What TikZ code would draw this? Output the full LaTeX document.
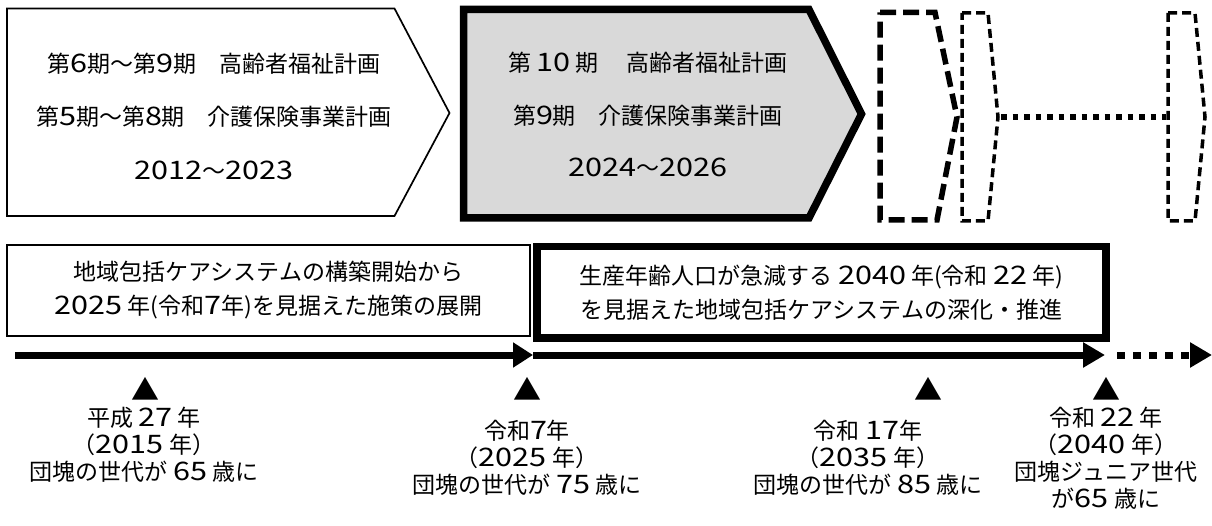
\documentclass[tikz,border=0pt]{standalone}
\usepackage{fontspec}
\newfontfamily\jp{Noto Sans CJK JP}
\newfontfamily\jpdigit[FakeStretch=1.2]{Noto Sans CJK JP}
\newcommand\dg[1]{{\jpdigit\fontsize{25.5}{26}\selectfont #1}}
\usetikzlibrary{arrows.meta}
\definecolor{planfill}{HTML}{D9D9D9}
\tikzset{
  jptext/.style={font=\jp\fontsize{23}{27}\selectfont, inner sep=0pt, align=center},
  toptext/.style={jptext, font=\jp\fontsize{23}{53.5}\selectfont},
  toptextB/.style={jptext, font=\jp\fontsize{23}{52.5}\selectfont},
  boxtext/.style={jptext, font=\jp\fontsize{23}{34}\selectfont},
  planA/.style={draw, line width=1.7pt, fill=white, line join=miter},
  planB/.style={draw, line width=7.5pt, fill=planfill, line join=miter},
  futureA/.style={draw, line width=5.5pt, dash pattern=on 16pt off 7pt},
  futureB/.style={draw, line width=3.5pt, dash pattern=on 9pt off 5pt},
  dotline/.style={line width=5.5pt, dash pattern=on 5.5pt off 6pt},
  stageA/.style={boxtext, draw, line width=1.7pt, minimum width=523pt, minimum height=91pt},
  stageB/.style={boxtext, draw, line width=7.5pt, minimum width=569pt, minimum height=91.5pt},
  timeline/.style={line width=7pt},
  marker/.style={jptext, font=\jp\fontsize{28}{28}\selectfont},
  yearlabel/.style={jptext}
}
\begin{document}
\begin{tikzpicture}[x=1pt,y=-1pt]
\useasboundingbox (0,0) rectangle (1212,526);

% plan pentagons
\draw[planA] (7,8.5) -- (394.5,8.5) -- (449.5,113) -- (394.5,216) -- (7,216) -- cycle;
\node[toptext] (p1) at (214,116) {第\dg{6}期～第\dg{9}期　高齢者福祉計画\\第\dg{5}期～第\dg{8}期　介護保険事業計画\\\dg{2012}～\dg{2023}};

\draw[planB] (463.5,9.5) -- (809,9.5) -- (861.5,114) -- (809,218) -- (463.5,218) -- cycle;
\node[toptextB] (p2) at (648,114.5) {第 \dg{10} 期\hspace{1.2em}高齢者福祉計画\\第\dg{9}期　介護保険事業計画\\\dg{2024}～\dg{2026}};

\draw[futureA] (880,12.5) -- (935,12.5) -- (957,117) -- (937,220) -- (880,220) -- cycle;
\draw[futureB] (962,13) -- (988,13) -- (998,117) -- (988,221) -- (962,221) -- cycle;
\draw[futureB] (1168,13) -- (1195,13) -- (1205,117) -- (1195,221) -- (1168,221) -- cycle;
\coordinate (f2tip) at (1001,117);
\coordinate (f3left) at (1166,117);
\draw[dotline] (f2tip) -- (f3left);

% stage boxes
\node[stageA] (s1) at (268.5,290.5) {地域包括ケアシステムの構築開始から\\\dg{2025} 年(令和\dg{7}年)を見据えた施策の展開};
\node[stageB] (s2) at (821.5,292.25) {生産年齢人口が急減する \dg{2040} 年(令和 \dg{22} 年)\\を見据えた地域包括ケアシステムの深化・推進};

% timeline
\coordinate (t0) at (15,355);
\coordinate (t1) at (533,355);
\coordinate (t2) at (1105,355);
\coordinate (t3) at (1117,355);
\coordinate (t4) at (1212,355);
\draw[timeline, -{Triangle[length=20pt,width=24pt]}] (t0) -- (t1);
\draw[timeline, -{Triangle[length=22pt,width=24pt]}] (t1) -- (t2);
\draw[timeline, dash pattern=on 8pt off 8pt, -{Triangle[length=22pt,width=24pt]}] (t3) -- (t4);

% markers and labels
\node[marker] (m1) at (145,389) {▲};
\node[marker] (m2) at (527,389) {▲};
\node[marker] (m3) at (928,389) {▲};
\node[marker] (m4) at (1106,389) {▲};

\node[yearlabel] (y1) at (144,445) {平成 \dg{27} 年\\（\dg{2015} 年）\\団塊の世代が \dg{65} 歳に};
\node[yearlabel] (y2) at (527,458) {令和\dg{7}年\\（\dg{2025} 年）\\団塊の世代が \dg{75} 歳に};
\node[yearlabel] (y3) at (868,458) {令和 \dg{17}年\\（\dg{2035} 年）\\団塊の世代が \dg{85} 歳に};
\node[yearlabel] (y4) at (1106,458.5) {令和 \dg{22} 年\\（\dg{2040} 年）\\団塊ジュニア世代\\が\dg{65} 歳に};
\end{tikzpicture}
\end{document}
